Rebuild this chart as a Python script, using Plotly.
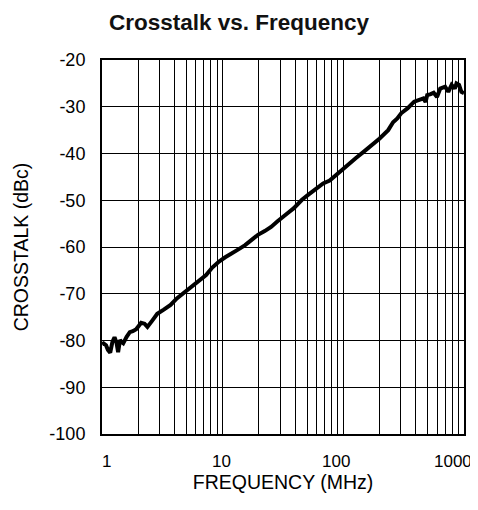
import math
import plotly.graph_objects as go

# ---- data ----
freq_mhz = [1.0, 1.03, 1.08, 1.12, 1.17, 1.22, 1.27, 1.32, 1.36, 1.41, 1.45, 1.5,
            1.6, 1.7, 1.8, 1.92, 2.0, 2.11, 2.25, 2.38, 2.6, 2.87, 3.25, 3.7, 4.17,
            4.87, 5.5, 6.3, 7.29, 8.2, 9.33, 10.5, 11.98, 13.5, 15.35, 17.5, 19.6,
            22.3, 25.2, 28.5, 32.3, 35.5, 38.9, 45.4, 52, 60, 68, 77.1, 92.9, 108,
            126.5, 148, 172.6, 200, 235.3, 258.4, 280, 301.4, 341.6, 386.5, 437.5,
            460, 480.4, 495.5, 530, 560.7, 597.4, 635.5, 697.3, 741.3, 789.3, 839.7,
            866.4, 909.9, 951.4, 1000]
crosstalk_dbc = [-80.8, -80.6, -81.0, -82.0, -82.6, -80.3, -79.3, -80.5, -82.5, -79.9,
                 -80.3, -80.6, -79.2, -78.2, -78.0, -77.6, -77.0, -76.2, -76.4, -77.1,
                 -75.8, -74.3, -73.4, -72.4, -71.0, -69.6, -68.7, -67.5, -66.0, -64.4,
                 -63.1, -62.2, -61.4, -60.5, -59.6, -58.4, -57.4, -56.6, -55.7, -54.5,
                 -53.5, -52.5, -51.7, -49.9, -48.7, -47.4, -46.4, -45.8, -43.9, -42.5,
                 -41.0, -39.6, -38.2, -36.8, -35.0, -33.3, -32.5, -31.4, -30.3, -28.9,
                 -28.4, -28.2, -29.0, -27.5, -27.3, -27.0, -27.9, -26.1, -25.7, -26.8,
                 -25.3, -26.1, -25.0, -25.3, -26.8, -27.1]

x_tick_vals = [1, 10, 100, 1000]
x_tick_labels = ["1", "10", "100", "1000"]
y_tick_vals = [-100, -90, -80, -70, -60, -50, -40, -30, -20]
y_tick_labels = ["-100", "-90", "-80", "-70", "-60", "-50", "-40", "-30", "-20"]

# ---- style ----
FONT = "Liberation Sans, Arial, Helvetica, sans-serif"
x_label_shift_px = [4, -1, -7, -11]

fig = go.Figure()
fig.add_trace(go.Scatter(x=freq_mhz, y=crosstalk_dbc, mode="lines",
                         line=dict(color="black", width=4, shape="linear"),
                         showlegend=False, hoverinfo="skip"))

for v, t, s in zip(x_tick_vals, x_tick_labels, x_label_shift_px):
    fig.add_annotation(x=math.log10(v), xref="x", y=0, yref="paper", text=t,
                       showarrow=False, xanchor="center", yanchor="top",
                       xshift=s, yshift=-17, borderpad=0,
                       font=dict(family=FONT, size=17, color="black"))

fig.update_layout(
    width=470, height=502,
    margin=dict(l=85, r=14, t=52, b=76),
    paper_bgcolor="white", plot_bgcolor="white",
    title=dict(text="<b>Crosstalk vs. Frequency</b>", x=(239 - 8) / 470, xref="container",
               xanchor="center", y=1 - 14 / 502, yref="container", yanchor="middle",
               font=dict(family=FONT, size=22.5, color="#111")),
    font=dict(family=FONT, color="black"),
    xaxis=dict(type="log", range=[0, 3], tickvals=x_tick_vals,
               showticklabels=False, ticks="",
               showgrid=True, gridcolor="black", gridwidth=1,
               minor=dict(dtick="D1", showgrid=True, gridcolor="black", gridwidth=1, ticks=""),
               showline=True, linecolor="black", linewidth=2, mirror=True,
               zeroline=False,
               title=dict(text="FREQUENCY (MHz)", standoff=40,
                          font=dict(family=FONT, size=19.5, color="black"))),
    yaxis=dict(range=[-100, -20], tickvals=y_tick_vals, ticktext=y_tick_labels,
               ticks="", ticklabelstandoff=11,
               tickfont=dict(family=FONT, size=18, color="black"),
               showgrid=True, gridcolor="black", gridwidth=1,
               showline=True, linecolor="black", linewidth=2, mirror=True,
               zeroline=False,
               title=dict(text="CROSSTALK (dBc)", standoff=16,
                          font=dict(family=FONT, size=19.5, color="black"))),
)

fig.write_html("out.html")
